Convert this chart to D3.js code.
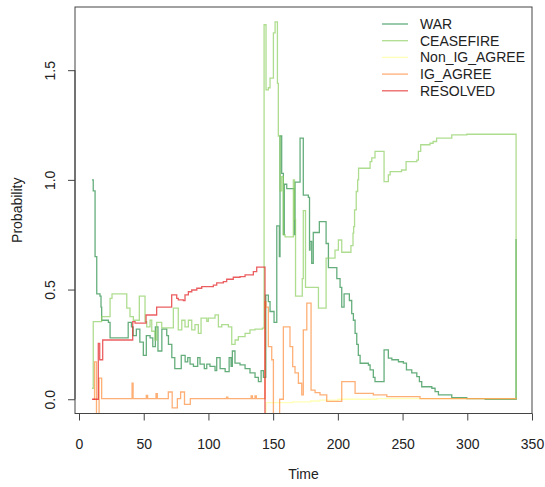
<!DOCTYPE html>
<html>
<head>
<meta charset="utf-8">
<script src="https://cdn.jsdelivr.net/npm/d3@7"></script>
<style>
  body { margin: 0; background: #fff; }
  text { font-family: Arial, "Liberation Sans", Helvetica, sans-serif; fill: #222; }
</style>
</head>
<body>
<div class="chart"></div>
<script>
// step series, [time, probability]
var war = [[10,1.0],[11,0.95],[12.4,0.65],[13.7,0.48],[16.2,0.47],[17,0.42],[17.5,0.36],[22.7,0.35],[24,0.28],[38,0.35],[40.5,0.33],[41.8,0.29],[44.3,0.32],[47,0.26],[49.7,0.2],[52,0.29],[54.9,0.28],[57,0.24],[59,0.33],[61,0.22],[64,0.32],[67.8,0.29],[69.1,0.25],[71.7,0.19],[74,0.14],[79,0.2],[82,0.17],[84,0.19],[85.8,0.16],[88.4,0.15],[91.7,0.19],[93.5,0.16],[96.8,0.14],[98.7,0.16],[101.2,0.15],[105.1,0.13],[106.4,0.19],[109,0.14],[112.9,0.126],[116,0.19],[117.5,0.15],[118.5,0.22],[120.5,0.165],[124.4,0.157],[128.3,0.14],[132.1,0.12],[136,0.1],[138.6,0.08],[140.7,0.13],[142.5,0.1],[144.3,0.475],[146.3,0.445],[147.6,0.4],[150.7,0.35],[152.8,0.79],[154.8,0.65],[155.3,1.2],[156.6,1.03],[157.9,0.75],[158.6,0.98],[160.5,0.96],[166.4,0.75],[166.9,0.99],[170.8,1.19],[173.3,0.93],[177.2,0.92],[178.1,0.68],[178.5,0.72],[179.8,0.62],[181,0.76],[185.7,0.81],[190.9,0.71],[192.7,0.6],[199.2,0.55],[201.7,0.51],[203,0.42],[204.8,0.48],[208.9,0.45],[210.7,0.39],[212,0.36],[213.3,0.3],[214.6,0.25],[215.8,0.2],[217.2,0.164],[223.6,0.156],[224.9,0.134],[227.4,0.1],[228.7,0.08],[235.7,0.225],[239,0.187],[241.7,0.18],[246.8,0.171],[250.6,0.165],[253,0.134],[257.1,0.12],[261,0.103],[263,0.08],[264.8,0.057],[272.6,0.05],[275.1,0.035],[277.7,0.02],[288,0.007],[299.6,0.003],[313.8,0],[337.7,0.73]];

var ceasefire = [[10,0.05],[11,0.354],[17.5,0.377],[24,0.46],[25.5,0.48],[36.9,0.415],[39.4,0.377],[42,0.36],[46.6,0.47],[51,0.354],[52.3,0.33],[54.9,0.36],[56.2,0.31],[58.7,0.27],[60,0.35],[63.9,0.325],[72.9,0.415],[76.7,0.316],[79.4,0.36],[81.9,0.33],[84.5,0.36],[87.1,0.316],[89.6,0.34],[92.2,0.3],[94.3,0.37],[98.7,0.355],[99.9,0.37],[105.1,0.385],[107.7,0.33],[110.3,0.34],[115.4,0.33],[118,0.25],[120.6,0.27],[123.1,0.285],[128.3,0.3],[132.1,0.316],[136,0.32],[141.7,0.324],[143,1.707],[144.5,1.41],[146.3,1.42],[147.6,1.464],[150.2,1.67],[151.5,1.72],[153.3,1.44],[154,1.2],[155.3,0.95],[156.6,1.015],[157.9,0.75],[159.2,0.74],[165.6,1.0],[166.5,0.82],[167.3,0.47],[172.1,0.47],[172.5,0.55],[173.3,0.86],[175,0.51],[185,0.415],[190.9,0.643],[196.5,0.643],[197.8,0.68],[200.4,0.726],[203,0.67],[210.1,0.7],[211.7,0.757],[212.2,0.787],[212.9,0.863],[214.2,0.947],[215.3,1.0],[216,1.053],[223.6,1.053],[224.9,1.083],[226.2,1.1],[228.7,1.13],[235.7,0.992],[239,1.023],[240.4,1.038],[249.2,1.045],[252.7,1.083],[261,1.09],[262.2,1.13],[264,1.16],[271.2,1.167],[273.6,1.175],[276.3,1.19],[288,1.205],[299.6,1.208],[337.7,0]];

var nonIgAgree = [[143.7,-0.3],[144.5,-0.015],[165,-0.012],[179,-0.008],[186,-0.004],[200,0],[230,0.003],[337.7,0.003]];

var igAgree = [[11,0],[12,0.17],[13.5,-0.3],[15.5,0.096],[17.5,0.003],[41,0.073],[41.8,0.003],[52,0.017],[53,0.003],[59.5,0.025],[60.5,0.003],[69,0.033],[72,-0.039],[76,0.003],[78.5,0.033],[81.5,-0.023],[86,0.003],[114,0.01],[115,0.003],[133,0.015],[134,0.003],[136,0.015],[137,0.003],[143.7,0.445],[144.5,0.42],[146.3,0.24],[147.6,0.24],[148.9,0.18],[150.2,-0.3],[155,0],[157.9,0.33],[163,0.24],[165.1,0.149],[166.9,0.12],[169.5,0.073],[172.1,0.02],[173.3,0.316],[176,0.438],[179.3,0.042],[182.4,0.03],[186.2,0.02],[191.4,-0.01],[203,0.08],[213.3,0.027],[227.4,0.02],[237.8,0.012],[263.5,0.003],[337.7,0]];

var resolved = [[10,0],[14.9,0.255],[16,0.18],[18.3,0.27],[41.5,0.354],[43.3,0.347],[51.8,0.384],[60,0.42],[71.6,0.476],[75.5,0.46],[76.7,0.453],[80.6,0.45],[81.9,0.476],[84.5,0.49],[87.1,0.498],[91,0.506],[94.8,0.513],[103.8,0.52],[106.4,0.53],[111.5,0.536],[114.1,0.547],[119.2,0.556],[124.4,0.559],[128.3,0.567],[134.7,0.582],[137.3,0.602],[143.7,-0.3]];

var seriesNames = ["WAR", "CEASEFIRE", "Non_IG_AGREE", "IG_AGREE", "RESOLVED"];
var seriesData = [war, ceasefire, nonIgAgree, igAgree, resolved];
var colors = ["#238b45", "#8ccf5f", "#ffff99", "#fd8d3c", "#e31a1c"];

var xTicks = [0, 50, 100, 150, 200, 250, 300, 350];
var yTicks = [0, 0.5, 1.0, 1.5];

var w = 545, h = 487,
    pL = 75, pR = 532, pT = 7, pB = 413.5;

var svg = d3.select(".chart").append("svg")
    .attr("width", w)
    .attr("height", h);

var x = d3.scaleLinear().domain([-3.1, 350]).range([pL, pR]);
var y = d3.scaleLinear().domain([-0.065, 1.788]).range([pB, pT]);

svg.append("clipPath").attr("id", "plotclip")
  .append("rect")
    .attr("x", pL).attr("y", pT)
    .attr("width", pR - pL).attr("height", pB - pT);

var line = d3.line()
    .x(d => x(d[0]))
    .y(d => y(d[1]))
    .curve(d3.curveStepAfter);

var plot = svg.append("g").attr("clip-path", "url(#plotclip)");

seriesData.forEach((s, i) => {
  plot.append("path")
    .datum(s)
    .attr("d", line)
    .attr("fill", "none")
    .attr("stroke", colors[i])
    .attr("stroke-opacity", 0.7)
    .attr("stroke-width", 1.3);
});

// box
svg.append("rect")
  .attr("x", pL).attr("y", pT)
  .attr("width", pR - pL).attr("height", pB - pT)
  .attr("fill", "none")
  .attr("stroke", "#444")
  .attr("stroke-width", 1);

// axes
var xAxis = d3.axisBottom(x).tickValues(xTicks).tickSize(7).tickSizeOuter(0).tickFormat(d3.format("d"));
var gx = svg.append("g")
  .attr("transform", "translate(0," + pB + ")")
  .call(xAxis);
gx.select(".domain").remove();
gx.append("line")
  .attr("x1", x(0)).attr("x2", x(350))
  .attr("stroke", "#444");
gx.selectAll(".tick line").attr("stroke", "#444");
gx.selectAll(".tick text")
  .attr("y", 35.5).attr("dy", 0)
  .style("font-size", "14px")
  .style("fill", "#222");

var yAxis = d3.axisLeft(y).tickValues(yTicks).tickSize(7).tickSizeOuter(0).tickFormat(d3.format(".1f"));
var gy = svg.append("g")
  .attr("transform", "translate(" + pL + ",0)")
  .call(yAxis);
gy.select(".domain").remove();
gy.append("line")
  .attr("y1", y(0)).attr("y2", y(1.5))
  .attr("stroke", "#444");
gy.selectAll(".tick line").attr("stroke", "#444");
gy.selectAll(".tick text")
  .attr("x", 0).attr("dy", 0)
  .attr("text-anchor", "middle")
  .attr("transform", "translate(-20,0) rotate(-90)")
  .style("font-size", "14px")
  .style("fill", "#222");

svg.append("text")
  .attr("x", (pL + pR) / 2)
  .attr("y", 479)
  .attr("text-anchor", "middle")
  .style("font-size", "14px")
  .text("Time");

svg.append("text")
  .attr("transform", "translate(22," + (pT + pB) / 2 + ") rotate(-90)")
  .attr("text-anchor", "middle")
  .style("font-size", "14px")
  .text("Probability");

// legend
var legend = svg.append("g").attr("class", "legend");
seriesNames.forEach((name, i) => {
  var ly = 24 + i * 16.7;
  legend.append("line")
    .attr("x1", 382).attr("x2", 408)
    .attr("y1", ly).attr("y2", ly)
    .attr("stroke", colors[i])
    .attr("stroke-opacity", 0.7)
    .attr("stroke-width", 1.3);
  legend.append("text")
    .attr("x", 420)
    .attr("y", ly + 5)
    .style("font-size", "14px")
    .text(name);
});
</script>
</body>
</html>
